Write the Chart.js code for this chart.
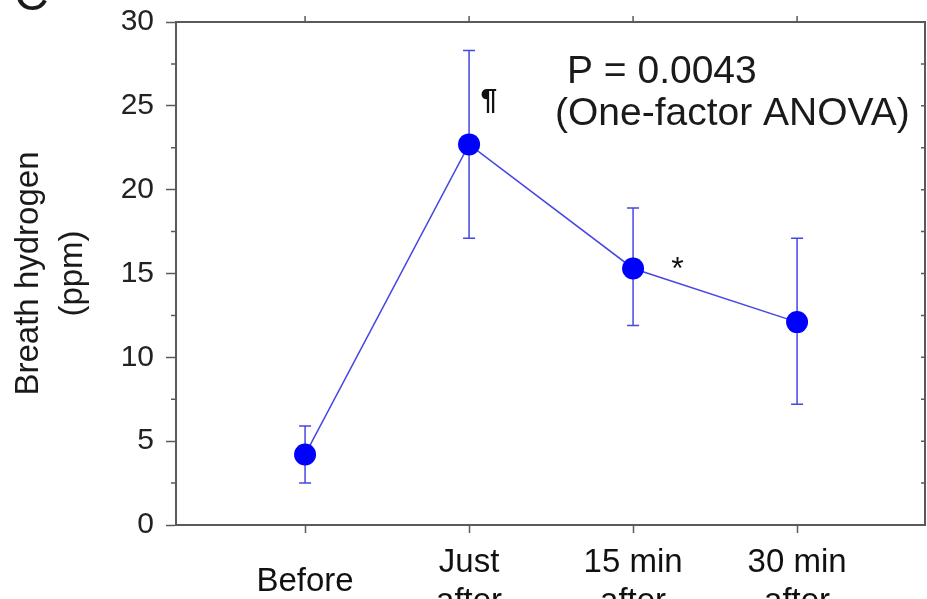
<!DOCTYPE html>
<html>
<head>
<meta charset="utf-8">
<script src="https://cdn.jsdelivr.net/npm/chart.js@4.4.0/dist/chart.umd.min.js"></script>
<style>
html, body { margin: 0; padding: 0; background: #fff; overflow: hidden; }
#wrap { width: 927px; height: 640px; position: relative; }
</style>
</head>
<body>
<div id="wrap"><canvas id="breath" width="927" height="640"></canvas></div>
<script>
// breath hydrogen, mean with error range
var timepoints = [['Before'], ['Just', 'after'], ['15 min', 'after'], ['30 min', 'after']];
var meanH2 = [4.2, 22.7, 15.3, 12.1];
var upperH2 = [5.9, 28.3, 18.9, 17.1];
var lowerH2 = [2.5, 17.1, 11.9, 7.2];
var yMajor = [0, 5, 10, 15, 20, 25, 30];
var yMinor = [2.5, 7.5, 12.5, 17.5, 22.5, 27.5];
var sigMarks = ['', '¶', '*', ''];
var statText = ['P = 0.0043', '(One-factor ANOVA)'];

var FONT = "'Liberation Sans', Arial, Helvetica, sans-serif";
var axisc = '#5a5a5a';
var barc = '#4747e4';

var points = meanH2.map(function (m, i) { return { x: i, y: m }; });

var extras = {
    id: 'extras',
    beforeDatasetsDraw: function (chart) {
        var ctx = chart.ctx, xs = chart.scales.x, ys = chart.scales.y;
        ctx.save();
        ctx.strokeStyle = barc;
        ctx.lineWidth = 1.5;
        meanH2.forEach(function (m, i) {
            var px = xs.getPixelForValue(i);
            var t = ys.getPixelForValue(upperH2[i]);
            var b = ys.getPixelForValue(lowerH2[i]);
            ctx.beginPath();
            ctx.moveTo(px, t); ctx.lineTo(px, b);
            ctx.moveTo(px - 6, t); ctx.lineTo(px + 6, t);
            ctx.moveTo(px - 6, b); ctx.lineTo(px + 6, b);
            ctx.stroke();
        });
        ctx.restore();
    },
    afterDraw: function (chart) {
        var ctx = chart.ctx, xs = chart.scales.x, ys = chart.scales.y;
        var a = chart.chartArea;
        ctx.save();
        // top and right frame
        ctx.strokeStyle = axisc;
        ctx.lineWidth = 2;
        ctx.beginPath();
        ctx.moveTo(a.left, a.top); ctx.lineTo(a.right, a.top); ctx.lineTo(a.right, a.bottom);
        ctx.stroke();
        ctx.lineWidth = 1.5;
        ctx.beginPath();
        // minor ticks on left
        yMinor.forEach(function (v) {
            var py = ys.getPixelForValue(v);
            ctx.moveTo(a.left - 5, py); ctx.lineTo(a.left, py);
        });
        // small inward ticks on right
        yMajor.concat(yMinor).forEach(function (v) {
            var py = ys.getPixelForValue(v);
            ctx.moveTo(a.right - 4, py); ctx.lineTo(a.right, py);
        });
        // ticks on top
        timepoints.forEach(function (c, i) {
            var px = xs.getPixelForValue(i);
            ctx.moveTo(px, a.top - 6); ctx.lineTo(px, a.top);
        });
        ctx.stroke();

        // significance marks
        ctx.fillStyle = '#111';
        ctx.textBaseline = 'middle';
        ctx.textAlign = 'center';
        sigMarks.forEach(function (s, i) {
            if (!s) return;
            var px, py;
            if (s === '*') {
                px = xs.getPixelForValue(i + 0.27);
                py = ys.getPixelForValue(meanH2[i]);
                ctx.font = '32px ' + FONT;
                ctx.fillText(s, px, py + 2);
            } else {
                px = xs.getPixelForValue(i + 0.12);
                py = ys.getPixelForValue(upperH2[i]) + 50;
                ctx.font = 'bold 30px ' + FONT;
                ctx.fillText(s, px, py);
            }
        });

        // statistics text
        ctx.font = '39px ' + FONT;
        ctx.textAlign = 'left';
        ctx.fillStyle = '#1a1a1a';
        ctx.fillText(statText[0], 567, 72);
        ctx.fillText(statText[1], 555, 114);

        // panel letter, cut at the top
        ctx.font = '48px ' + FONT;
        ctx.textBaseline = 'alphabetic';
        ctx.fillText('C', 14, 10);
        ctx.restore();
    }
};

var ctx1 = document.getElementById('breath');

chart1 = new Chart(ctx1, {
    type: 'line',
    data: {
        datasets: [
            {
                label: 'Breath hydrogen',
                data: points,
                borderColor: barc,
                borderWidth: 1.5,
                pointRadius: 11,
                pointHoverRadius: 11,
                pointBackgroundColor: '#0000ff',
                pointBorderWidth: 0,
                tension: 0,
                fill: false
            }
        ]
    },
    options: {
        responsive: false,
        animation: false,
        events: [],
        layout: { autoPadding: false, padding: { left: 0, right: 2, top: 22, bottom: 0 } },
        plugins: {
            legend: { display: false },
            tooltip: { enabled: false }
        },
        scales: {
            x: {
                type: 'linear',
                min: -0.787,
                max: 3.78,
                afterBuildTicks: function (scale) {
                    scale.ticks = timepoints.map(function (c, i) { return { value: i }; });
                },
                afterFit: function (scale) {
                    scale.height = 115;
                    scale.paddingLeft = 0;
                    scale.paddingRight = 0;
                },
                border: { color: axisc, width: 2 },
                grid: { drawOnChartArea: false, tickLength: 8, tickColor: axisc, tickWidth: 1.5 },
                ticks: {
                    autoSkip: false,
                    maxRotation: 0,
                    padding: 30,
                    crossAlign: 'center',
                    color: '#111',
                    font: { family: FONT, size: 33, lineHeight: 1.17 },
                    callback: function (v) { return timepoints[v]; }
                }
            },
            y: {
                min: 0,
                max: 30,
                afterBuildTicks: function (scale) {
                    scale.ticks = yMajor.map(function (v) { return { value: v }; });
                },
                afterFit: function (scale) {
                    scale.width = 176;
                    scale.paddingTop = 0;
                    scale.paddingBottom = 0;
                },
                border: { color: axisc, width: 2 },
                grid: { drawOnChartArea: false, tickLength: 10, tickColor: axisc, tickWidth: 1.5 },
                title: {
                    display: true,
                    text: ['Breath hydrogen', '(ppm)'],
                    color: '#1a1a1a',
                    font: { family: FONT, size: 33, lineHeight: 1.36 },
                    padding: { top: 6, bottom: 0 }
                },
                ticks: {
                    padding: 12,
                    color: '#222',
                    font: { family: FONT, size: 30 }
                }
            }
        }
    },
    plugins: [extras]
});
</script>
</body>
</html>
